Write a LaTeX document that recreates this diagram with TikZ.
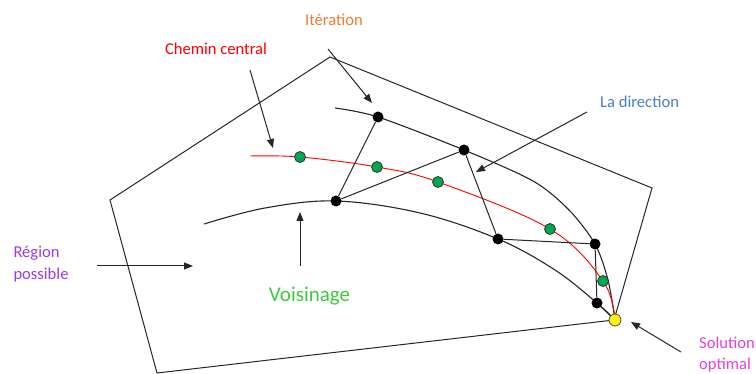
\documentclass[tikz,border=0pt]{standalone}
\usepackage{fontspec}
\setmainfont{Carlito}
\usetikzlibrary{arrows.meta}
\definecolor{dotgreen}{HTML}{00A651}
\definecolor{itorange}{HTML}{ED7D31}
\definecolor{dirblue}{HTML}{4A7EC4}
\definecolor{regpurple}{HTML}{9A3BEA}
\definecolor{voisgreen}{HTML}{3CCB3C}
\definecolor{solmagenta}{HTML}{E040E0}
\begin{document}
\begin{tikzpicture}[x=1pt,y=-1pt,
  edge/.style={draw=black!85, line width=1pt},
  curve/.style={draw=black!85, line width=1.1pt},
  redcurve/.style={draw=red, line width=0.9pt},
  ptr/.style={draw=black!85, line width=1pt, -{Triangle[length=9pt,width=7pt]}},
  blackdot/.style={circle, fill=black, inner sep=0pt, minimum size=11pt},
  greendot/.style={circle, fill=dotgreen, draw=black!80, line width=0.8pt, inner sep=0pt, minimum size=11pt},
  yellowdot/.style={circle, fill=yellow, draw=black!70, line width=0.8pt, inner sep=0pt, minimum size=12pt},
  lbl/.style={inner sep=0pt, font=\fontsize{16.6}{20}\selectfont},
  biglbl/.style={inner sep=0pt, font=\fontsize{21}{25}\selectfont},
]
\useasboundingbox (0,0) rectangle (756,374);

% feasible region
\draw[edge] (330,57) -- (652,188) -- (614,320) -- (157,373) -- (110,200) -- cycle;

% positions
\coordinate (pA) at (378,117);
\coordinate (pB) at (464,150);
\coordinate (pC) at (336,201);
\coordinate (pD) at (498,239);
\coordinate (pE) at (595,244);
\coordinate (pF) at (597,303);
\coordinate (pY) at (615,320);
\coordinate (pG1) at (300,157);
\coordinate (pG2) at (377,167);
\coordinate (pG3) at (438,182);
\coordinate (pG4) at (550,229);
\coordinate (pG5) at (603,281);

% curves
\draw[curve] plot[smooth, tension=0.5] coordinates {(335,108) (pA) (pB) (533,181) (569,210) (pE) (608,280) (pY)};
\draw[curve] plot[smooth, tension=0.6] coordinates {(204,224) (265,208) (pC) (420,213) (pD) (555,270) (pF) (pY)};
\draw[redcurve] plot[smooth, tension=0.6] coordinates {(250,156) (pG1) (pG2) (pG3) (pG4) (pG5) (pY)};

% dots
\node[blackdot] (A) at (pA) {};
\node[blackdot] (B) at (pB) {};
\node[blackdot] (C) at (pC) {};
\node[blackdot] (D) at (pD) {};
\node[blackdot] (E) at (pE) {};
\node[blackdot] (F) at (pF) {};
\node[greendot] (G1) at (pG1) {};
\node[greendot] (G2) at (pG2) {};
\node[greendot] (G3) at (pG3) {};
\node[greendot] (G4) at (pG4) {};
\node[greendot] (G5) at (pG5) {};
\node[yellowdot] (Y) at (pY) {};

% iterates
\draw[edge] (A) -- (C);
\draw[edge] (C) -- (B);
\draw[edge] (B) -- (D);
\draw[edge] (D) -- (E);
\draw[edge] (E) -- (F);
\draw[edge] (F) -- (Y);

% labels
\node[lbl, text=itorange, anchor=base] (iter) at (334,25.3) {Itération};
\node[lbl, text=red, anchor=base] (chemin) at (216,55) {Chemin central};
\node[lbl, text=dirblue, anchor=base west] (dir) at (600,107.3) {La direction};
\node[lbl, text=regpurple, anchor=base west] (reg1) at (13.3,257.3) {Région};
\node[lbl, text=regpurple, anchor=base west] (reg2) at (13.3,280) {possible};
\node[biglbl, text=voisgreen, anchor=base] (vois) at (309.5,301.5) {Voisinage};
\node[lbl, text=solmagenta, anchor=base west] (sol1) at (699,349) {Solution};
\node[lbl, text=solmagenta, anchor=base west] (sol2) at (699,370) {optimal};

% pointer arrows
\coordinate (itS) at (328,49);   \coordinate (itT) at (372,103);
\coordinate (chS) at (250,70);   \coordinate (chT) at (273,148);
\coordinate (diS) at (587,112);  \coordinate (diT) at (476,172);
\coordinate (voS) at (300,266);  \coordinate (voT) at (300,212);
\coordinate (reS) at (97,266);   \coordinate (reT) at (193,266);
\coordinate (soS) at (681,352);  \coordinate (soT) at (631,322);
\draw[ptr] (itS) -- (itT);
\draw[ptr] (chS) -- (chT);
\draw[ptr] (diS) -- (diT);
\draw[ptr] (voS) -- (voT);
\draw[ptr] (reS) -- (reT);
\draw[ptr] (soS) -- (soT);
\end{tikzpicture}
\end{document}
